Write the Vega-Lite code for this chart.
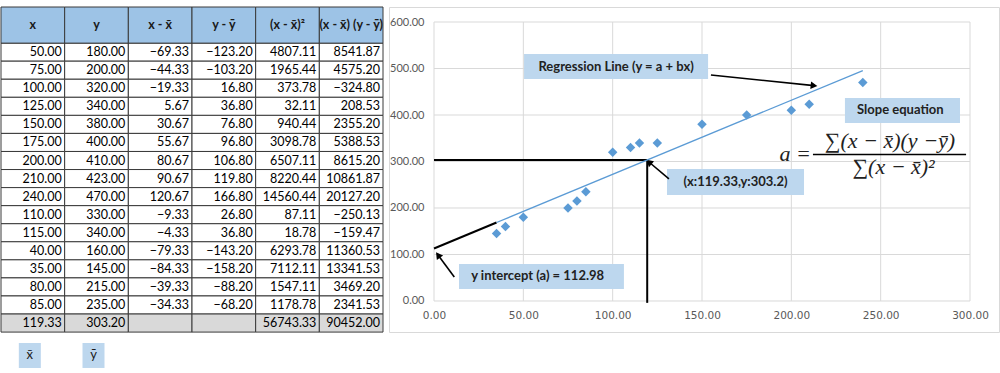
{
  "$schema": "https://vega.github.io/schema/vega-lite/v6.json",
  "padding": {"left": 0, "top": 6, "right": 0, "bottom": 0},
  "background": "white",
  "spacing": 6,
  "bounds": "flush",
  "config": {
    "font": "Lato",
    "view": {"stroke": null},
    "axis": {"grid": false, "domain": false, "ticks": false, "tickSize": 0, "labelColor": "#595959", "title": null}
  },
  "datasets": {
    "table": [
      {"row": 1, "x": 50, "y": 180, "dx": -69.33, "dy": -123.20, "dx2": 4807.11, "dxdy": 8541.87},
      {"row": 2, "x": 75, "y": 200, "dx": -44.33, "dy": -103.20, "dx2": 1965.44, "dxdy": 4575.20},
      {"row": 3, "x": 100, "y": 320, "dx": -19.33, "dy": 16.80, "dx2": 373.78, "dxdy": -324.80},
      {"row": 4, "x": 125, "y": 340, "dx": 5.67, "dy": 36.80, "dx2": 32.11, "dxdy": 208.53},
      {"row": 5, "x": 150, "y": 380, "dx": 30.67, "dy": 76.80, "dx2": 940.44, "dxdy": 2355.20},
      {"row": 6, "x": 175, "y": 400, "dx": 55.67, "dy": 96.80, "dx2": 3098.78, "dxdy": 5388.53},
      {"row": 7, "x": 200, "y": 410, "dx": 80.67, "dy": 106.80, "dx2": 6507.11, "dxdy": 8615.20},
      {"row": 8, "x": 210, "y": 423, "dx": 90.67, "dy": 119.80, "dx2": 8220.44, "dxdy": 10861.87},
      {"row": 9, "x": 240, "y": 470, "dx": 120.67, "dy": 166.80, "dx2": 14560.44, "dxdy": 20127.20},
      {"row": 10, "x": 110, "y": 330, "dx": -9.33, "dy": 26.80, "dx2": 87.11, "dxdy": -250.13},
      {"row": 11, "x": 115, "y": 340, "dx": -4.33, "dy": 36.80, "dx2": 18.78, "dxdy": -159.47},
      {"row": 12, "x": 40, "y": 160, "dx": -79.33, "dy": -143.20, "dx2": 6293.78, "dxdy": 11360.53},
      {"row": 13, "x": 35, "y": 145, "dx": -84.33, "dy": -158.20, "dx2": 7112.11, "dxdy": 13341.53},
      {"row": 14, "x": 80, "y": 215, "dx": -39.33, "dy": -88.20, "dx2": 1547.11, "dxdy": 3469.20},
      {"row": 15, "x": 85, "y": 235, "dx": -34.33, "dy": -68.20, "dx2": 1178.78, "dxdy": 2341.53},
      {"row": 16, "x": 119.33, "y": 303.20, "dx": null, "dy": null, "dx2": 56743.33, "dxdy": 90452.00}
    ],
    "header": [
      {"col": "x", "row": -1, "label": "x"},
      {"col": "y", "row": -1, "label": "y"},
      {"col": "dx", "row": -1, "label": "x - x\u0304"},
      {"col": "dy", "row": -1, "label": "y - \u0233"},
      {"col": "dx2", "row": -1, "label": "(x - x\u0304)\u00b2"},
      {"col": "dxdy", "row": -1, "label": "(x - x\u0304) (y - \u0233)"}
    ],
    "means": [
      {"col": "x", "row": 18, "label": "x\u0304"},
      {"col": "y", "row": 18, "label": "\u0233"}
    ],
    "grid_y": [{"v": 0}, {"v": 100}, {"v": 200}, {"v": 300}, {"v": 400}, {"v": 500}, {"v": 600}],
    "grid_x": [{"v": 0}, {"v": 50}, {"v": 100}, {"v": 150}, {"v": 200}, {"v": 250}, {"v": 300}],
    "labels": [
      {"label": "Regression Line (y = a + bx)", "x": 101.9, "y": 504.3, "x0": 50.4, "x1": 153.4, "y0": 477.4, "y1": 531.2},
      {"label": "(x:119.33,y:303.2)", "x": 168.75, "y": 255.9, "x0": 130.4, "x1": 207.1, "y0": 228.0, "y1": 283.9},
      {"label": "Slope equation", "x": 261.0, "y": 409.7, "x0": 230.0, "x1": 294.4, "y0": 382.8, "y1": 436.6},
      {"label": "y intercept (a) = 112.98", "x": 58.0, "y": 52.7, "x0": 14.0, "x1": 106.3, "y0": 25.8, "y1": 79.6}
    ],
    "segments": [
      {"kind": "thick", "x": 0, "y": 303.2, "x2": 119.33, "y2": 303.2},
      {"kind": "thick", "x": 119.33, "y": 303.2, "x2": 119.33, "y2": -4},
      {"kind": "thick", "x": 0, "y": 112.98, "x2": 35, "y2": 168.77},
      {"kind": "arrow", "x": 155.0, "y": 486.0, "x2": 212.7, "y2": 463.2},
      {"kind": "arrow", "x": 131.5, "y": 262.4, "x2": 120.3, "y2": 298.9},
      {"kind": "arrow", "x": 11.36, "y": 51.6, "x2": 2.24, "y2": 98.9},
      {"kind": "frac", "x": 212.1, "y": 315.1, "x2": 297.8, "y2": 315.1}
    ],
    "heads": [
      {"x": 212.7, "y": 463.2, "angle": 5.9},
      {"x": 120.3, "y": 298.9, "angle": 220.6},
      {"x": 2.24, "y": 98.9, "angle": 233.8}
    ],
    "regline": [{"x": 35, "y": 168.77}, {"x": 240, "y": 495.55}],
    "formula": [
      {"t": "a =", "x": 202.1, "y": 316.1},
      {"t": "\u2211(x \u2212 x\u0304)(y   \u2212\u0233)", "x": 255.2, "y": 344.1},
      {"t": "\u2211(x \u2212 x\u0304)\u00b2", "x": 257.2, "y": 288.2}
    ]
  },
  "hconcat": [
    {
      "width": 382,
      "height": 361.2,
      "layer": [
        {
          "data": {"name": "table"},
          "transform": [{"fold": ["x", "y", "dx", "dy", "dx2", "dxdy"], "as": ["col", "value"]}],
          "mark": {"type": "rect", "stroke": "#3a3a3a", "strokeWidth": 1},
          "encoding": {
            "x": {"field": "col", "type": "nominal", "axis": null,
                  "scale": {"domain": ["x", "y", "dx", "dy", "dx2", "dxdy"], "paddingInner": 0, "paddingOuter": 0}},
            "y": {"field": "row", "type": "ordinal", "axis": null,
                  "scale": {"domain": [-1, 0, 1, 2, 3, 4, 5, 6, 7, 8, 9, 10, 11, 12, 13, 14, 15, 16, 17, 18], "paddingInner": 0, "paddingOuter": 0}},
            "color": {"condition": {"test": "datum.row == 16", "value": "#d9d9d9"}, "value": "white"}
          }
        },
        {
          "data": {"name": "header"},
          "mark": {"type": "tick", "orient": "horizontal", "size": 63.67, "thickness": 36.1, "yOffset": 9.03, "color": "#9dc3e6", "opacity": 1, "stroke": "#3a3a3a", "strokeWidth": 1},
          "encoding": {
            "x": {"field": "col", "type": "nominal", "axis": null},
            "y": {"field": "row", "type": "ordinal", "axis": null}
          }
        },
        {
          "data": {"name": "header"},
          "mark": {"type": "text", "fontWeight": "bold", "fontSize": 12.5, "color": "#1a1a1a", "align": "center", "baseline": "middle", "yOffset": 9.03},
          "encoding": {
            "x": {"field": "col", "type": "nominal", "axis": null},
            "y": {"field": "row", "type": "ordinal", "axis": null},
            "text": {"field": "label"}
          }
        },
        {
          "data": {"name": "table"},
          "transform": [
            {"fold": ["x", "y", "dx", "dy", "dx2", "dxdy"], "as": ["col", "value"]},
            {"filter": "isValid(datum.value)"}
          ],
          "mark": {"type": "text", "fontSize": 12.5, "color": "#000000", "align": "right", "baseline": "middle", "dx": -3},
          "encoding": {
            "x": {"field": "col", "type": "nominal", "axis": null, "bandPosition": 1},
            "y": {"field": "row", "type": "ordinal", "axis": null},
            "text": {"field": "value", "type": "quantitative", "format": ".2f"}
          }
        },
        {
          "data": {"name": "means"},
          "mark": {"type": "tick", "orient": "horizontal", "size": 22, "thickness": 25, "yOffset": -3.7, "xOffset": -3, "color": "#bdd7ee", "opacity": 1},
          "encoding": {
            "x": {"field": "col", "type": "nominal", "axis": null},
            "y": {"field": "row", "type": "ordinal", "axis": null}
          }
        },
        {
          "data": {"name": "means"},
          "mark": {"type": "text", "fontSize": 13, "color": "#1a1a1a", "align": "center", "baseline": "middle", "yOffset": -3.7, "xOffset": -3},
          "encoding": {
            "x": {"field": "col", "type": "nominal", "axis": null},
            "y": {"field": "row", "type": "ordinal", "axis": null},
            "text": {"field": "label"}
          }
        }
      ]
    },
    {
      "width": 610,
      "height": 325,
      "view": {"stroke": "#d9d9d9", "strokeWidth": 1},
      "layer": [
        {
          "data": {"name": "grid_y"},
          "mark": {"type": "rule", "color": "#d9d9d9", "strokeWidth": 1},
          "encoding": {
            "y": {"field": "v", "type": "quantitative", "title": null,
                  "scale": {"domain": [-66.67, 632.26], "nice": false, "zero": false},
                  "axis": {"title": null, "values": [0, 100, 200, 300, 400, 500, 600], "format": ".2f", "offset": -45, "labelPadding": 10, "labelFont": "Lato", "labelFontSize": 11, "labelColor": "#595959"}},
            "x": {"datum": 0, "type": "quantitative", "title": null,
                  "scale": {"domain": [-25.19, 316.23], "nice": false, "zero": false},
                  "axis": {"title": null, "values": [0, 50, 100, 150, 200, 250, 300], "format": ".2f", "offset": -31, "labelPadding": 9, "labelFont": "DejaVu Sans", "labelFontSize": 10.5, "labelColor": "#595959"}},
            "x2": {"datum": 300}
          }
        },
        {
          "data": {"name": "grid_x"},
          "mark": {"type": "rule", "color": "#d9d9d9", "strokeWidth": 1},
          "encoding": {
            "x": {"field": "v", "type": "quantitative", "title": null},
            "y": {"datum": 0, "type": "quantitative", "title": null},
            "y2": {"datum": 600}
          }
        },
        {
          "data": {"name": "labels"},
          "mark": {"type": "rect", "color": "#bdd7ee", "opacity": 1},
          "encoding": {
            "x": {"field": "x0", "type": "quantitative", "title": null},
            "x2": {"field": "x1"},
            "y": {"field": "y0", "type": "quantitative", "title": null},
            "y2": {"field": "y1"}
          }
        },
        {
          "data": {"name": "segments"},
          "transform": [{"filter": "datum.kind == 'thick'"}],
          "mark": {"type": "rule", "color": "#000000", "strokeWidth": 2},
          "encoding": {
            "x": {"field": "x", "type": "quantitative", "title": null},
            "y": {"field": "y", "type": "quantitative", "title": null},
            "x2": {"field": "x2"},
            "y2": {"field": "y2"}
          }
        },
        {
          "data": {"name": "segments"},
          "transform": [{"filter": "datum.kind == 'arrow'"}],
          "mark": {"type": "rule", "color": "#000000", "strokeWidth": 1.6},
          "encoding": {
            "x": {"field": "x", "type": "quantitative", "title": null},
            "y": {"field": "y", "type": "quantitative", "title": null},
            "x2": {"field": "x2"},
            "y2": {"field": "y2"}
          }
        },
        {
          "data": {"name": "heads"},
          "mark": {"type": "point", "shape": "triangle-right", "filled": true, "color": "#000000", "size": 60, "opacity": 1},
          "encoding": {
            "x": {"field": "x", "type": "quantitative", "title": null},
            "y": {"field": "y", "type": "quantitative", "title": null},
            "angle": {"field": "angle", "type": "quantitative", "scale": null}
          }
        },
        {
          "data": {"name": "regline"},
          "mark": {"type": "line", "color": "#5b9bd5", "strokeWidth": 1.3},
          "encoding": {
            "x": {"field": "x", "type": "quantitative", "title": null},
            "y": {"field": "y", "type": "quantitative", "title": null}
          }
        },
        {
          "data": {"name": "table"},
          "transform": [{"filter": "datum.row <= 15"}],
          "mark": {"type": "point", "shape": "diamond", "filled": true, "color": "#5b9bd5", "size": 90, "opacity": 1},
          "encoding": {
            "x": {"field": "x", "type": "quantitative", "title": null},
            "y": {"field": "y", "type": "quantitative", "title": null}
          }
        },
        {
          "data": {"name": "segments"},
          "transform": [{"filter": "datum.kind == 'frac'"}],
          "mark": {"type": "rule", "color": "#000000", "strokeWidth": 1.3},
          "encoding": {
            "x": {"field": "x", "type": "quantitative", "title": null},
            "y": {"field": "y", "type": "quantitative", "title": null},
            "x2": {"field": "x2"},
            "y2": {"field": "y2"}
          }
        },
        {
          "data": {"name": "labels"},
          "mark": {"type": "text", "fontWeight": "bold", "fontSize": 13, "color": "#222222", "align": "center", "baseline": "middle"},
          "encoding": {
            "x": {"field": "x", "type": "quantitative", "title": null},
            "y": {"field": "y", "type": "quantitative", "title": null},
            "text": {"field": "label"}
          }
        },
        {
          "data": {"name": "formula"},
          "mark": {"type": "text", "font": "Liberation Serif", "fontStyle": "italic", "fontSize": 22, "color": "#222222", "align": "center", "baseline": "middle"},
          "encoding": {
            "x": {"field": "x", "type": "quantitative", "title": null},
            "y": {"field": "y", "type": "quantitative", "title": null},
            "text": {"field": "t"}
          }
        }
      ]
    }
  ]
}
